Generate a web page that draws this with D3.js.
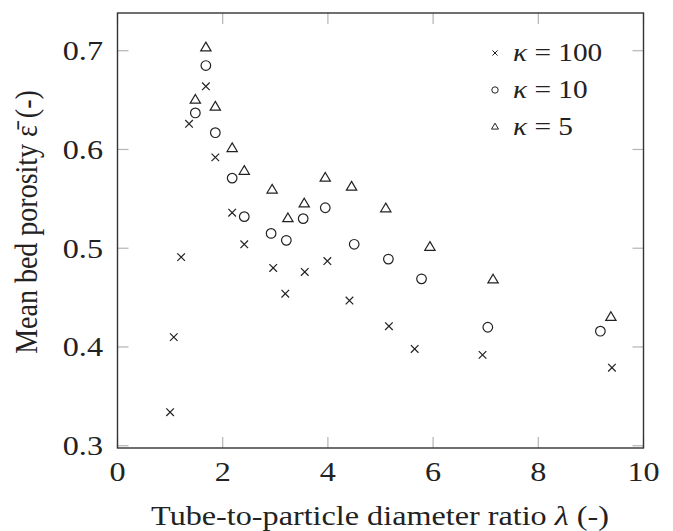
<!DOCTYPE html>
<html>
<head>
<meta charset="utf-8">
<script src="https://cdn.jsdelivr.net/npm/d3@7"></script>
<style>
  body { margin: 0; background: #fff; }
</style>
</head>
<body>
<script>
// kappa = 100
const lam100 = [1.00, 1.07, 1.21, 1.36, 1.68, 1.86, 2.18, 2.41, 2.96, 3.19, 3.56, 3.99, 4.41, 5.16, 5.65, 6.94, 9.40];
const eps100 = [0.334, 0.410, 0.491, 0.626, 0.664, 0.592, 0.536, 0.504, 0.480, 0.454, 0.476, 0.487, 0.447, 0.421, 0.398, 0.392, 0.379];
// kappa = 10
const lam10 = [1.48, 1.68, 1.86, 2.18, 2.41, 2.92, 3.21, 3.53, 3.95, 4.50, 5.15, 5.78, 7.04, 9.18];
const eps10 = [0.637, 0.685, 0.617, 0.571, 0.532, 0.515, 0.508, 0.530, 0.541, 0.504, 0.489, 0.469, 0.420, 0.416];
// kappa = 5
const lam5 = [1.48, 1.68, 1.86, 2.18, 2.41, 2.94, 3.24, 3.55, 3.95, 4.45, 5.10, 5.94, 7.14, 9.38];
const eps5 = [0.650, 0.703, 0.643, 0.601, 0.578, 0.559, 0.530, 0.545, 0.571, 0.562, 0.540, 0.501, 0.468, 0.430];

const xTicks = [0, 2, 4, 6, 8, 10];
const yTicks = [0.3, 0.4, 0.5, 0.6, 0.7];
const legendLabels = ["100", "10", "5"];

const W = 673, H = 531;
const x = d3.scaleLinear().domain([0, 10]).range([117.5, 643.5]);
const y = d3.scaleLinear().domain([0.2977, 0.7382]).range([448, 13]);
const stretch = 1.15; // text in the reference is wider than plain Times
const serif = "'Liberation Serif', 'Times New Roman', Times, serif";

const svg = d3.select("body").append("svg")
    .attr("width", W)
    .attr("height", H);

// text helper, stretched sideways like the reference
function label(g, tx, ty, str, size, anchor, rot) {
    return g.append("text")
        .attr("transform", `translate(${tx},${ty}) scale(${stretch},1)` + (rot ? ` rotate(${rot})` : ""))
        .attr("font-family", serif)
        .attr("font-size", size)
        .attr("fill", "#222")
        .attr("text-anchor", anchor)
        .text(str);
}

const [x0, x1] = x.range();
const [y0, y1] = y.range();

// ticks inside, on all four sides
const tl = 11;
const ticks = svg.append("g").attr("stroke", "#b4b4b4").attr("stroke-width", 1.2);
xTicks.forEach(t => {
    ticks.append("line").attr("x1", x(t)).attr("x2", x(t)).attr("y1", y0).attr("y2", y0 - tl);
    ticks.append("line").attr("x1", x(t)).attr("x2", x(t)).attr("y1", y1).attr("y2", y1 + tl);
});
yTicks.forEach(t => {
    ticks.append("line").attr("x1", x0).attr("x2", x0 + tl).attr("y1", y(t)).attr("y2", y(t));
    ticks.append("line").attr("x1", x1).attr("x2", x1 - tl).attr("y1", y(t)).attr("y2", y(t));
});

// frame
svg.append("rect")
    .attr("x", x0).attr("y", y1)
    .attr("width", x1 - x0).attr("height", y0 - y1)
    .attr("fill", "none").attr("stroke", "#333").attr("stroke-width", 1.4);

// tick labels
xTicks.forEach(t => label(svg, x(t), 481, String(t), 28, "middle"));
yTicks.forEach(t => label(svg, 103, y(t) + 9.5, t.toFixed(1), 28, "end"));

// axis titles
const xt = label(svg, 380, 525, "", 28, "middle");
xt.append("tspan").text("Tube-to-particle diameter ratio ");
xt.append("tspan").attr("font-style", "italic").text("λ");
xt.append("tspan").text(" (-)");

const yt = label(svg, 37, 222, "", 28, "middle", -90);
yt.append("tspan").text("Mean bed porosity ");
yt.append("tspan").text("ε\u0304");
yt.append("tspan").text(" (-)");

// marks
const ink = "#222";
function cross(s) {
    return `M${-s},${-s}L${s},${s}M${-s},${s}L${s},${-s}`;
}
function tri(s) {
    return `M0,${-s}L${s * 0.92},${s * 0.55}L${-s * 0.92},${s * 0.55}Z`;
}

const marks = svg.append("g").attr("fill", "none").attr("stroke", ink).attr("stroke-width", 1.2);

marks.selectAll(".k100").data(d3.range(lam100.length)).join("path")
    .attr("class", "k100")
    .attr("transform", i => `translate(${x(lam100[i])},${y(eps100[i])})`)
    .attr("d", cross(3.8));

marks.selectAll(".k10").data(d3.range(lam10.length)).join("circle")
    .attr("class", "k10")
    .attr("cx", i => x(lam10[i]))
    .attr("cy", i => y(eps10[i]))
    .attr("r", 4.8);

marks.selectAll(".k5").data(d3.range(lam5.length)).join("path")
    .attr("class", "k5")
    .attr("transform", i => `translate(${x(lam5[i])},${y(eps5[i])})`)
    .attr("d", tri(5.6));

// legend
const lg = svg.append("g");
legendLabels.forEach((lab, i) => {
    const cy = 53 + i * 37;
    const m = lg.append("g").attr("transform", `translate(495,${cy})`)
        .attr("fill", "none").attr("stroke", ink).attr("stroke-width", 1);
    if (i === 0) m.append("path").attr("d", cross(2.6));
    if (i === 1) m.append("circle").attr("r", 3.2);
    if (i === 2) m.append("path").attr("d", tri(3.8));
    const t = label(lg, 513, cy + 8, "", 25.5, "start");
    t.append("tspan").attr("font-style", "italic").text("κ");
    t.append("tspan").text(" = " + lab);
});
</script>
</body>
</html>
